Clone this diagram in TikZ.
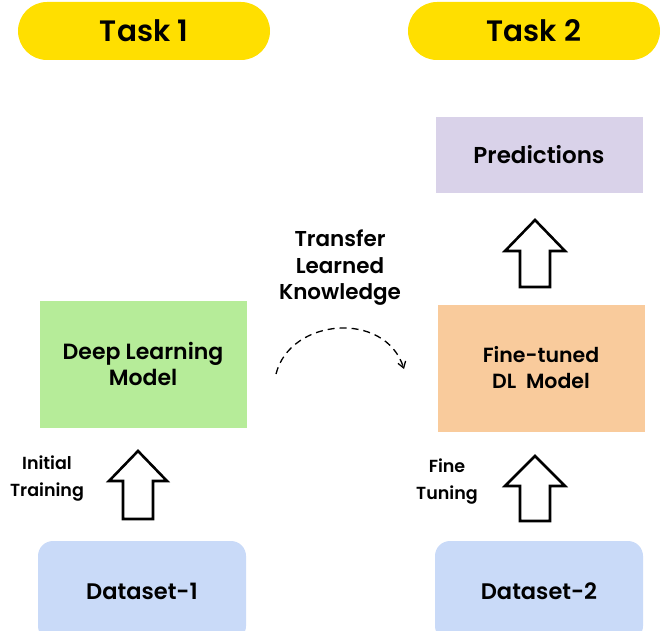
\documentclass[tikz,border=0pt]{standalone}
\usepackage{fontspec}
\setmainfont{Poppins}[BoldFont={Poppins SemiBold}]
\usetikzlibrary{arrows.meta}
\definecolor{pill}{HTML}{FFDF00}
\definecolor{dlgreen}{HTML}{B6EC99}
\definecolor{predc}{HTML}{D9D2E9}
\definecolor{ftc}{HTML}{F9CB9C}
\definecolor{dsc}{HTML}{C9DAF8}
\tikzset{
  pillbox/.style={fill=pill, rounded corners=29pt, minimum width=252pt, minimum height=58pt, inner sep=0pt, font=\fontsize{29.5}{32}\selectfont\bfseries},
  plainbox/.style={minimum width=207pt, inner sep=0pt, align=center, font=\fontsize{20.5}{26}\selectfont\bfseries},
  dsbox/.style={fill=dsc, rounded corners=15pt, minimum width=208pt, minimum height=100pt, inner sep=0pt, font=\fontsize{22.5}{26}\selectfont\bfseries},
  lbl/.style={align=center, inner sep=0pt, font=\fontsize{17.5}{27}\selectfont\bfseries},
  biglbl/.style={align=center, inner sep=0pt, font=\fontsize{21.5}{26.5}\selectfont\bfseries},
  fatarrow/.style={draw=black, fill=white, line width=2.6pt, line join=miter}
}
\begin{document}
\begin{tikzpicture}[x=1pt,y=-1pt]
\useasboundingbox (0,0) rectangle (661,631);
% pills
\node[pillbox] (t1) at (144,31) {Task 1};
\node[pillbox] (t2) at (534,31) {Task 2};
% boxes
\node[plainbox, fill=predc, minimum height=76pt, font=\fontsize{23}{26}\selectfont\bfseries] (pred) at (539,155) {Predictions};
\node[plainbox, fill=ftc, minimum height=127pt] (ft) at (541,368) {Fine-tuned\\DL\ \ Model};
\node[plainbox, fill=dlgreen, minimum height=127pt, font=\fontsize{22}{26}\selectfont\bfseries] (dl) at (143,364) {Deep Learning\\Model};
\node[dsbox] (d1) at (142,591) {Dataset-1};
\node[dsbox] (d2) at (539,591) {Dataset-2};
% arrows (fat hollow)
\coordinate (a1) at (138,451);
\draw[fatarrow] (a1) -- (167,481) -- (153,481) -- (153,519) -- (123,519) -- (123,481) -- (109,481) -- cycle;
\coordinate (a2) at (535,456);
\draw[fatarrow] (a2) -- (565,486) -- (550,486) -- (550,521) -- (520,521) -- (520,486) -- (505,486) -- cycle;
\coordinate (a3) at (535,220);
\draw[fatarrow] (a3) -- (565,251) -- (550,251) -- (550,287) -- (520,287) -- (520,251) -- (505,251) -- cycle;
% labels
\node[lbl] (it) at (47,479) {Initial\\Training};
\node[lbl] (ftl) at (447,482) {Fine\\Tuning};
\node[biglbl] (tk) at (340,268) {Transfer\\Learned\\Knowledge};
% dashed transfer arc
\coordinate (s) at (276,374);
\coordinate (e) at (404,369);
\draw[dashed, dash pattern=on 7pt off 5pt, line width=1.3pt, -{Straight Barb[length=6pt,width=8pt]}] (s) .. controls (290,318) and (385,310) .. (e);
\end{tikzpicture}
\end{document}
